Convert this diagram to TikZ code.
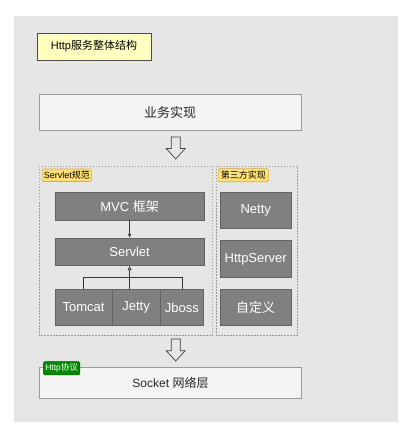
\documentclass[tikz,border=0pt]{standalone}
\usepackage{fontspec}
\setmainfont{Liberation Sans}
\newfontfamily\cjk{Noto Sans CJK SC}
\usetikzlibrary{arrows.meta}
\definecolor{bg}{HTML}{E6E6E6}
\definecolor{lightbox}{HTML}{F4F4F4}
\definecolor{lightborder}{HTML}{9A9A9A}
\definecolor{darkbox}{HTML}{808080}
\definecolor{darkborder}{HTML}{626262}
\definecolor{tagyellow}{HTML}{FFE27A}
\definecolor{tagborder}{HTML}{D6A94A}
\definecolor{titlefill}{HTML}{FFFFC0}
\definecolor{greentag}{HTML}{008A00}
\tikzset{
  lbox/.style={draw=lightborder, fill=lightbox, line width=0.8pt, inner sep=0pt, font=\fontsize{13}{15}\selectfont, text=black!85},
  dbox/.style={draw=darkborder, fill=darkbox, line width=0.8pt, inner sep=0pt, font=\fontsize{13}{15}\selectfont, text=white},
  grp/.style={draw=black!40, dashed, dash pattern=on 1.5pt off 1.5pt, line width=0.6pt},
  ytag/.style={draw=tagborder, fill=tagyellow, rounded corners=1.5pt, inner sep=0pt, font=\fontsize{9}{10}\selectfont, line width=0.6pt},
  hollow/.style={draw=black!75, fill=bg, line width=0.7pt, line join=miter},
  conn/.style={draw=black!80, line width=0.7pt}
}
\begin{document}
\begin{tikzpicture}[x=1pt,y=-1pt]
\useasboundingbox (0,0) rectangle (413,443);
\fill[bg] (14,16) rectangle (398,422);
% title
\node[draw=black!70, fill=titlefill, line width=0.8pt, minimum width=114pt, minimum height=27pt, inner sep=0pt, font=\fontsize{11}{13}\selectfont] (title) at (94,46.5) {Http{\cjk 服务整体结构}};
% business
\node[lbox, minimum width=262pt, minimum height=36.5pt] (biz) at (170,112.3) {\cjk 业务实现};
% hollow arrow 1
\path[hollow] (171.2,137) -- (180.2,137) -- (180.2,148.5) -- (185.2,148.5) -- (175.7,159) -- (166.2,148.5) -- (171.2,148.5) -- cycle;
% groups
\draw[grp] (39.3,166) rectangle (212.7,335);
\draw[grp] (216,166) rectangle (297.7,335);
\node[ytag, minimum width=49.5pt, minimum height=12.5pt] (tag1) at (66.8,175.3) {Servlet{\cjk 规范}};
\node[ytag, minimum width=50.5pt, minimum height=13pt] (tag2) at (243.3,175.3) {\cjk 第三方实现};
% servlet stack
\node[dbox, minimum width=149.3pt, minimum height=27.7pt] (mvc) at (129.6,206.2) {MVC {\cjk 框架}};
\node[dbox, minimum width=149.3pt, minimum height=27.4pt] (servlet) at (129.6,252) {Servlet};
\node[dbox, minimum width=57.3pt, minimum height=36.4pt] (tomcat) at (83.6,307.5) {Tomcat};
\node[dbox, minimum width=47.7pt, minimum height=36.4pt] (jetty) at (136.1,307.5) {Jetty};
\node[dbox, minimum width=43.7pt, minimum height=36.4pt] (jboss) at (181.9,307.5) {Jboss};
\draw[conn, -{Latex[length=4pt,width=3.5pt]}] (mvc.south) -- (servlet.north);
\draw[conn] (tomcat.north) -- ++(0,-11.6) -| (jboss.north);
\coordinate (jtop) at (servlet.south |- jetty.north);
\draw[conn, -{Triangle[open,length=4pt,width=4pt]}] (jtop) -- (servlet.south);
% third party
\node[dbox, minimum width=71.3pt, minimum height=36.4pt] (netty) at (255.7,210.5) {Netty};
\node[dbox, minimum width=71.3pt, minimum height=36.6pt] (httpserver) at (255.7,259) {HttpServer};
\node[dbox, minimum width=71.3pt, minimum height=36.4pt] (custom) at (255.7,307.5) {\cjk 自定义};
% hollow arrow 2
\path[hollow] (171.2,339) -- (180.2,339) -- (180.2,350.7) -- (185.2,350.7) -- (175.7,361) -- (166.2,350.7) -- (171.2,350.7) -- cycle;
% socket
\node[lbox, minimum width=262.4pt, minimum height=31.4pt, font=\fontsize{12}{14}\selectfont] (socket) at (170.5,383) {Socket {\cjk 网络层}};
\node[draw=green!35!black, fill=greentag, text=white, rounded corners=1.5pt, inner sep=0pt, minimum width=36.7pt, minimum height=13.3pt, font=\fontsize{8.5}{9}\selectfont, line width=0.5pt] (http) at (61.6,368.3) {Http{\cjk 协议}};
\end{tikzpicture}
\end{document}
